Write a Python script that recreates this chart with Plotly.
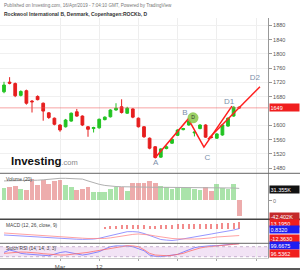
import plotly.graph_objects as go

# ---------------- data ----------------
bar_index = list(range(43))
opens  = [1694,1721,1717,1684,1697,1668,1681,1662,1635,1620,1601,1596,1612,1638,1626,1596,1591,1593,1616,1624,
          1643,1652,1634,1646,1620,1596,1564,1540,1511,1535,1550,1572,1588,1601,1579,1591,1601,1568,1564,1573,
          1598,1626,1651]
highs  = [1722,1735,1720,1698,1700,1671,1684,1664,1637,1622,1603,1618,1636,1646,1628,1598,1596,1619,1625,1645,
          1662,1673,1652,1648,1622,1598,1566,1542,1536,1544,1563,1589,1593,1614,1583,1603,1603,1570,1578,1603,
          1622,1653,1653]
lows   = [1690,1715,1679,1681,1658,1636,1670,1613,1618,1600,1582,1594,1610,1624,1598,1568,1580,1591,1614,1622,
          1641,1633,1632,1620,1594,1565,1533,1507,1509,1533,1548,1570,1586,1599,1569,1589,1565,1563,1562,1571,
          1596,1624,1647]
closes = [1713,1718,1683,1695,1662,1666,1672,1640,1622,1603,1587,1615,1634,1626,1601,1589,1594,1617,1623,1643,
          1648,1636,1648,1623,1596,1568,1536,1510,1534,1540,1561,1587,1591,1612,1581,1601,1567,1566,1576,1601,
          1620,1651,1649]

volume_k = [33,36,39,31,29,57,42,55,44,53,55,42,35,27,31,35,22,22,22,31,36,35,26,47,47,47,51,47,38,35,
            31,35,33,33,31,29,35,26,45,33,31,45,-42.402]
volume_ma_k = [53,53,53,53.5,53.5,54,55,56,58,59,60,60,60,60,58,53,48,44,41,39,38,37.5,37,36.5,36.5,36.5,
               36,36,36,36,36,35.5,35.5,35.5,35,35,35,35,35,35,35,34,33]

macd_line = [-11.3,-12,-12.6,-13.2,-13.7,-14.2,-15,-15.8,-16.6,-17.3,-17.9,-18.4,-18.9,-19.3,-19.6,-19.8,-19,
             -17.5,-15.1,-12.2,-9.4,-7,-5.1,-5,-5.7,-8.5,-12,-16,-19.8,-21,-21.7,-20.5,-18.9,-17,-15.1,-13,
             -11.3,-9.5,-7.5,-6,-4.7,-2,0.832]
signal_line = [-7.5,-8.3,-9,-9.8,-10.5,-11.3,-12,-12.6,-13.2,-13.7,-14.2,-15,-15.8,-16.6,-17.3,-17.9,-18.1,
               -18.1,-17.9,-16.8,-15.1,-13.2,-11.3,-10.2,-9.4,-10,-11.3,-13.2,-15.1,-16.6,-17.9,-18.5,-18.9,
               -19,-18.9,-18.5,-17.9,-16.8,-15.1,-14.5,-13.8,-13,-12.363]
macd_hist = [None]*18 + [3,4.5,5.5,6.5,7,7.5,7,6.5,6,6,6.5,7,7.5,8,8.5,9,8.5,8.5,9,9,9.5,10,10.5,11.5,13.195]

stoch_k = [46,60,52,40,36,34,30,27,26,35,45,50,44,35,30,35,42,50,66,80,85,86,84,80,70,56,30,22,20,24,28,34,
           48,62,74,80,84,86,86,88,92,96,99.67]
stoch_d = [40,44,48,48,47,46,42,38,34,31,30,30,33,37,42,46,52,58,64,70,78,83,86,85,80,62,40,30,26,26,28,33,
           40,52,63,72,78,82,85,88,91,94,96.54]

price_ticks = [1480,1520,1560,1600,1680,1720,1760,1800,1840,1880]
date_tick_idx = [10,17,24,31,38,45]
date_tick_text = ["Mar","12","","","",""]
last_price = 1649

pattern_names = ["A","B","C","D1"]
pattern_x = [27,32.9,35.7,40.7]
pattern_y = [1509,1618,1539,1654]
proj_x = [36.4,45.7]
proj_y = [1561,1708]
label_names = ["A","B","C","D1","D2"]
label_x = [27.1,32.3,36.3,40.2,44.8]
label_y = [1495,1635,1509,1666,1733]
marker_d = (33.75,1621)

FONT = "Arial, Liberation Sans, sans-serif"
UP, DN = "#22c322", "#e61e1e"

fig = go.Figure()

fig.add_trace(go.Candlestick(
    x=bar_index, open=opens, high=highs, low=lows, close=closes,
    increasing=dict(line=dict(color=UP, width=1), fillcolor=UP),
    decreasing=dict(line=dict(color=DN, width=1), fillcolor=DN),
    whiskerwidth=0, xaxis="x", yaxis="y", showlegend=False, hoverinfo="skip"))

fig.add_trace(go.Scatter(x=pattern_x, y=pattern_y, mode="lines",
                         line=dict(color="#ff1f1f", width=1.5), xaxis="x", yaxis="y",
                         showlegend=False, hoverinfo="skip"))
fig.add_trace(go.Scatter(x=proj_x, y=proj_y, mode="lines",
                         line=dict(color="#ff1f1f", width=1.5), xaxis="x", yaxis="y",
                         showlegend=False, hoverinfo="skip"))
fig.add_trace(go.Scatter(x=label_x, y=label_y, mode="text", text=label_names,
                         textfont=dict(family=FONT, size=8, color="#7d90aa"),
                         xaxis="x", yaxis="y", showlegend=False, hoverinfo="skip"))
fig.add_trace(go.Scatter(x=[marker_d[0]], y=[marker_d[1]], mode="markers+text", text=["D"],
                         textposition="middle center",
                         marker=dict(size=11, color="rgba(139,200,74,0.85)"),
                         textfont=dict(family=FONT, size=5, color="#333"),
                         xaxis="x", yaxis="y", showlegend=False, hoverinfo="skip"))

vol_colors = ["rgba(86,200,86,0.5)" if c >= o else "rgba(220,90,90,0.5)" for o, c in zip(opens, closes)]
fig.add_trace(go.Bar(x=bar_index, y=volume_k, marker=dict(color=vol_colors, line=dict(width=0)),
                     width=0.85, xaxis="x2", yaxis="y2", showlegend=False, hoverinfo="skip"))
fig.add_trace(go.Scatter(x=bar_index, y=volume_ma_k, mode="lines", line=dict(color="#b0b0b0", width=1),
                         xaxis="x2", yaxis="y2", showlegend=False, hoverinfo="skip"))

fig.add_trace(go.Bar(x=bar_index, y=macd_hist, marker=dict(color="#f28b8b", line=dict(width=0)),
                     width=0.2, xaxis="x3", yaxis="y3", showlegend=False, hoverinfo="skip"))
fig.add_trace(go.Scatter(x=bar_index, y=macd_line, mode="lines", line=dict(color="#7b7bff", width=0.8),
                         xaxis="x3", yaxis="y3", showlegend=False, hoverinfo="skip"))
fig.add_trace(go.Scatter(x=bar_index, y=signal_line, mode="lines", line=dict(color="#ff8a8a", width=0.8),
                         xaxis="x3", yaxis="y3", showlegend=False, hoverinfo="skip"))

fig.add_trace(go.Scatter(x=bar_index, y=stoch_k, mode="lines", line=dict(color="#6b6bff", width=0.8),
                         xaxis="x4", yaxis="y4", showlegend=False, hoverinfo="skip"))
fig.add_trace(go.Scatter(x=bar_index, y=stoch_d, mode="lines", line=dict(color="#ff6b6b", width=0.8),
                         xaxis="x4", yaxis="y4", showlegend=False, hoverinfo="skip"))

XD = [0, 268/300]
XR = [-0.714, 47.14]
def xax(anchor, labels=False):
    d = dict(domain=XD, range=XR, anchor=anchor, tickvals=date_tick_idx, showgrid=True,
             gridcolor="#eeeeee", gridwidth=1, zeroline=False, showticklabels=labels,
             fixedrange=True)
    if labels:
        d.update(ticktext=date_tick_text, ticks="outside", ticklen=2, tickcolor="#aaa",
                 tickfont=dict(family=FONT, size=6, color="#555"), showline=True,
                 linecolor="#cccccc")
    return d

def py(p):
    return 1 - p/271

yax_common = dict(side="right", showline=True, linecolor="#999", linewidth=1, zeroline=False,
                  fixedrange=True)

fig.update_layout(
    width=300, height=271, margin=dict(l=0, r=0, t=0, b=0),
    paper_bgcolor="white", plot_bgcolor="white", showlegend=False,
    font=dict(family=FONT), bargap=0,
    xaxis=dict(xax("y"), rangeslider=dict(visible=False)),
    xaxis2=dict(xax("y2"), matches="x"),
    xaxis3=dict(xax("y3"), matches="x"),
    xaxis4=dict(xax("y4", labels=True), matches="x"),
    yaxis=dict(yax_common, domain=[py(173.3), py(18)], range=[1465.7, 1900.7], tickvals=price_ticks,
               ticks="outside", ticklen=3, tickcolor="#999", showgrid=True, gridcolor="#f0f0f0",
               tickfont=dict(family=FONT, size=5.5, color="#555")),
    yaxis2=dict(yax_common, domain=[py(219.3), py(173.3)], range=[-49.9, 73.5], tickvals=[0],
                ticktext=["0"], ticks="outside", ticklen=3, tickcolor="#999", showgrid=False,
                tickfont=dict(family=FONT, size=5.5, color="#777")),
    yaxis3=dict(yax_common, domain=[py(243.3), py(219.3)], range=[-27, 18.3], showticklabels=False,
                showgrid=False),
    yaxis4=dict(yax_common, domain=[py(258.3), py(243.3)], range=[10.4, 100.4], showticklabels=False,
                showgrid=False),
)

shapes = []
shapes.append(dict(type="line", xref="x domain", yref="y", x0=0, x1=1, y0=last_price, y1=last_price,
                   line=dict(color="rgba(240,90,90,0.55)", width=1)))
shapes.append(dict(type="rect", xref="x4 domain", yref="y4", x0=0, x1=1, y0=20, y1=80,
                   fillcolor="rgba(156,39,176,0.13)", line=dict(width=0), layer="below"))
for lvl in (20, 80):
    shapes.append(dict(type="line", xref="x4 domain", yref="y4", x0=0, x1=1, y0=lvl, y1=lvl,
                       line=dict(color="#b9a0c4", width=0.8, dash="dot")))
for p, c, w in [(173.3, "#666", 1), (219.3, "#444", 1.5), (243.3, "#666", 1), (269, "#222", 1.5)]:
    shapes.append(dict(type="line", xref="paper", yref="paper", x0=0, x1=1, y0=py(p), y1=py(p),
                       line=dict(color=c, width=w)))
fig.update_layout(shapes=shapes)

ann = []
ann.append(dict(xref="paper", yref="paper", x=0.007, y=py(5.5), xanchor="left", yanchor="middle",
                text="Published on Investing.com, 16/Apr/2019 - 7:04:10 GMT, Powered by TradingView",
                showarrow=False, font=dict(family=FONT, size=4.6, color="#777")))
ann.append(dict(xref="paper", yref="paper", x=0.007, y=py(14), xanchor="left", yanchor="middle",
                text="<b>Rockwool International B, Denmark, Copenhagen:ROCKb, D</b>",
                showarrow=False, font=dict(family=FONT, size=5, color="#333")))
ann.append(dict(xref="paper", yref="paper", x=9/300, y=py(161), xanchor="left", yanchor="middle",
                text="<b>Investing</b><span style='color:#888;font-size:7.5px'>.com</span>",
                showarrow=False, font=dict(family=FONT, size=11.5, color="#111")))
for txt, p in [("Volume (20)", 179.5), ("MACD (12, 26, close, 9)", 225), ("Stoch RSI (14, 14, 3, 3)", 248)]:
    ann.append(dict(xref="paper", yref="paper", x=4/300, y=py(p), xanchor="left", yanchor="middle",
                    text=txt, showarrow=False, font=dict(family=FONT, size=4.8, color="#444")))

def box(text, yref, y, bg):
    return dict(xref="paper", yref=yref, x=269/300, y=y, xanchor="left", yanchor="middle",
                text=text, showarrow=False, bgcolor=bg, width=28, align="left", borderpad=0.5,
                font=dict(family=FONT, size=5.5, color="white"))

ann.append(box(str(last_price), "y", last_price, "#f01e1e"))
ann.append(box("31.355K", "y2", 31.355, "#111111"))
ann.append(box("-42.402K", "y2", volume_k[-1], "#c42a2a"))
ann.append(box("13.1950", "paper", py(223.3), "#f01e1e"))
ann.append(box("0.8320", "paper", py(229.5), "#1e1ef0"))
ann.append(box("-12.3630", "paper", py(238.3), "#f01e1e"))
ann.append(box("99.6675", "paper", py(245.8), "#1e1ef0"))
ann.append(box("96.5362", "paper", py(253.3), "#f01e1e"))
fig.update_layout(annotations=ann)

fig.write_html("out.html")
